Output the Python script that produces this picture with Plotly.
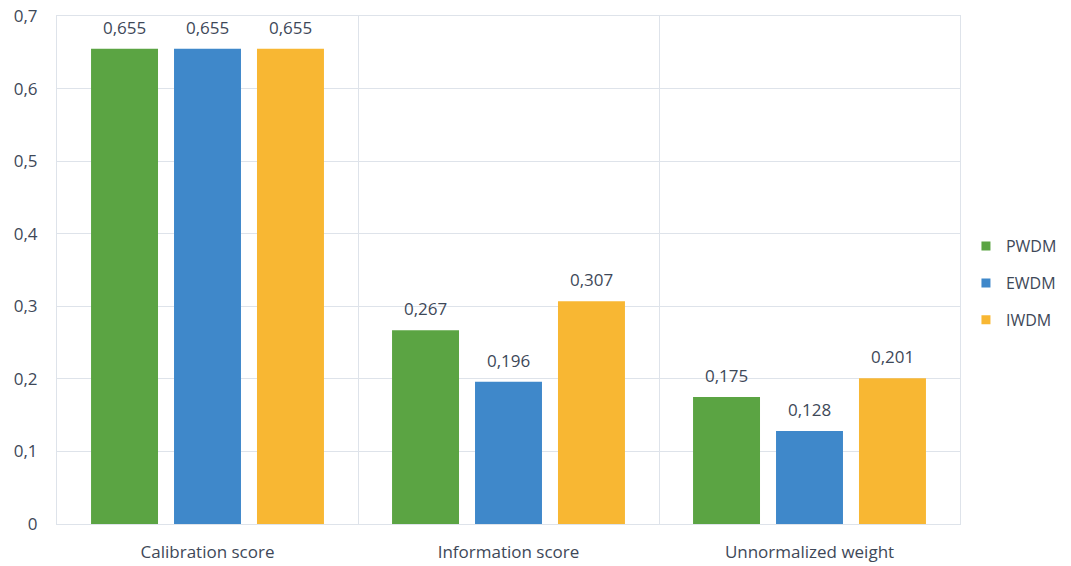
import plotly.graph_objects as go

categories = ["Calibration score", "Information score", "Unnormalized weight"]
series_names = ["PWDM", "EWDM", "IWDM"]
pwdm = [0.655, 0.267, 0.175]
ewdm = [0.655, 0.196, 0.128]
iwdm = [0.655, 0.307, 0.201]
series_values = [pwdm, ewdm, iwdm]
colors = ["#5BA443", "#3F88CA", "#F8B733"]

txt_color = "#3E4858"
font_family = "Open Sans, Lato, sans-serif"
fs = 17

fig = go.Figure()
for name, vals, col in zip(series_names, series_values, colors):
    fig.add_trace(go.Bar(
        x=categories, y=vals, name=name, legendgroup=name, showlegend=False,
        marker=dict(color=col, line=dict(width=0)),
        hoverinfo="skip",
    ))
# legend entries with small square swatches
for name, col in zip(series_names, colors):
    fig.add_trace(go.Scatter(
        x=[None], y=[None], mode="markers", name=name, legendgroup=name,
        marker=dict(symbol="square", size=9, color=col), showlegend=True,
    ))

# value labels above bars
slot_px = 83
for i, vals in enumerate(series_values):
    for cat, v in zip(categories, vals):
        fig.add_annotation(
            x=cat, y=v, text=f"{v:.3f}".replace(".", ","),
            showarrow=False, xshift=(i - 1) * slot_px, yshift=8,
            yanchor="bottom", font=dict(size=fs, color=txt_color, family=font_family),
        )

fig.update_layout(
    width=1071, height=566,
    margin=dict(l=57, r=111, t=16, b=42, autoexpand=False),
    paper_bgcolor="white", plot_bgcolor="white",
    separators=",.",
    barmode="group", bargap=0.173, bargroupgap=0.193,
    font=dict(family=font_family, size=fs, color=txt_color),
    legend=dict(x=1.0066, y=0.474, xanchor="left", yanchor="middle",
                tracegroupgap=13, font=dict(size=fs - 1, color=txt_color),
                itemwidth=30),
    showlegend=True,
)
fig.update_yaxes(
    range=[0, 0.7], dtick=0.1, showgrid=True, gridcolor="#DEE3EA", gridwidth=1,
    zeroline=False, showline=True, linecolor="#DEE3EA", mirror=True,
    ticks="outside", ticklen=15, tickcolor="rgba(0,0,0,0)",
    tickfont=dict(size=fs, color=txt_color),
)
fig.update_xaxes(
    tickson="boundaries", showgrid=True, gridcolor="#DEE3EA", gridwidth=1,
    showline=True, linecolor="#DEE3EA", mirror=True,
    ticks="", ticklabelstandoff=13,
    tickfont=dict(size=fs, color=txt_color),
)

fig.write_html("out.html")
